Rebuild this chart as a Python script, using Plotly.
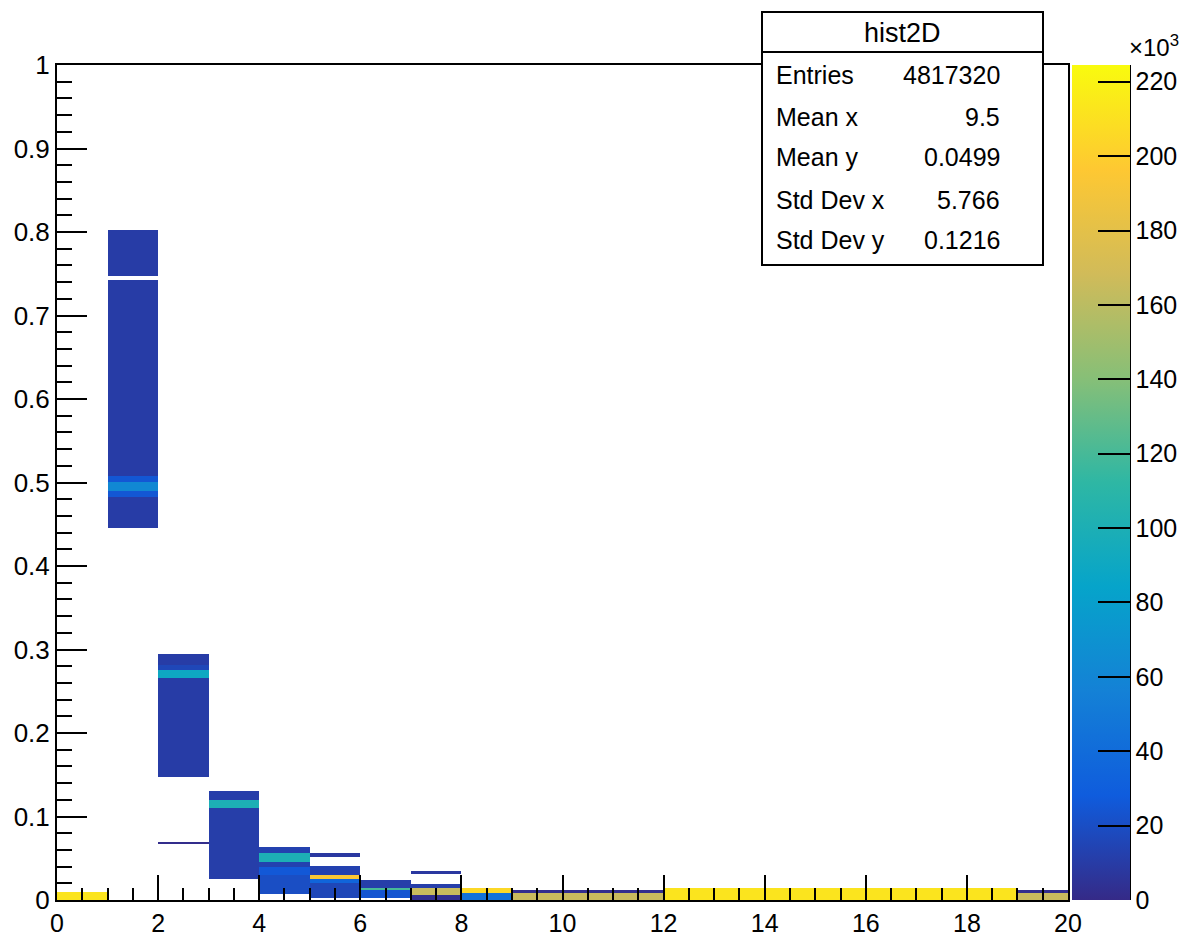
import numpy as np
import plotly.graph_objects as go

# ---------------- data ----------------
# x bins: 20 bins of width 1 from 0 to 20
x_edges = list(range(0, 21))

# Filled regions of the 2D histogram: column (x bin index), y range, content (x10^3 entries)
seg_col = [0,
           1, 1, 1, 1, 1, 1,
           2, 2, 2, 2, 2,
           3, 3, 3,
           4, 4, 4, 4, 4,
           5, 5, 5, 5, 5,
           6, 6, 6,
           7, 7, 7, 7,
           8, 8,
           9, 9, 10, 10, 11, 11,
           12, 13, 14, 15, 16, 17, 18,
           19, 19]
seg_ylo = [0.0,
           0.4455, 0.483, 0.490, 0.501, 0.508, 0.747,
           0.067, 0.147, 0.266, 0.275, 0.282,
           0.025, 0.110, 0.120,
           0.007, 0.030, 0.040, 0.046, 0.0567,
           0.003, 0.020, 0.0248, 0.0299, 0.0518,
           0.003, 0.012, 0.0144,
           0.0, 0.006, 0.0144, 0.031,
           0.0, 0.0084,
           0.0, 0.0088, 0.0, 0.0088, 0.0, 0.0088,
           0.0, 0.0, 0.0, 0.0, 0.0, 0.0, 0.0,
           0.0, 0.0088]
seg_yhi = [0.0096,
           0.483, 0.490, 0.501, 0.508, 0.7425, 0.803,
           0.0695, 0.266, 0.275, 0.282, 0.2946,
           0.110, 0.120, 0.1305,
           0.030, 0.040, 0.046, 0.0567, 0.0638,
           0.020, 0.0248, 0.0299, 0.0407, 0.0566,
           0.012, 0.0144, 0.024,
           0.006, 0.0144, 0.0192, 0.035,
           0.0084, 0.0144,
           0.0088, 0.012, 0.0088, 0.012, 0.0088, 0.012,
           0.0144, 0.0144, 0.0144, 0.0144, 0.0144, 0.0144, 0.0144,
           0.0088, 0.012]
seg_val = [212,
           10, 25, 62, 25, 10, 10,
           1.5, 10, 90, 16, 10,
           11, 100, 11,
           20, 26, 13, 100, 13,
           16, 35, 195, 13, 8,
           24, 120, 11,
           3, 165, 11, 8,
           45, 205,
           165, 2, 165, 2, 165, 2,
           212, 212, 212, 212, 212, 212, 212,
           165, 2]

x_ticks = [0, 2, 4, 6, 8, 10, 12, 14, 16, 18, 20]
z_ticks = [0, 20, 40, 60, 80, 100, 120, 140, 160, 180, 200, 220]
z_max = 224.5

stats_labels = ["Entries", "Mean x", "Mean y", "Std Dev x", "Std Dev y"]
stats_values = ["4817320", "9.5", "0.0499", "5.766", "0.1216"]
hist_name = "hist2D"

# ---------------- build the binned grid ----------------
y_edges = sorted(set(seg_ylo) | set(seg_yhi) | {0.0, 1.0})
ny, nx = len(y_edges) - 1, len(x_edges) - 1
z = np.full((ny, nx), np.nan)
for c, lo, hi, v in zip(seg_col, seg_ylo, seg_yhi, seg_val):
    for j in range(ny):
        if y_edges[j] >= lo - 1e-12 and y_edges[j + 1] <= hi + 1e-12:
            z[j, c] = v

bird = [[0.000, "rgb(53,42,135)"], [0.125, "rgb(15,92,221)"], [0.250, "rgb(20,129,214)"],
        [0.375, "rgb(6,164,202)"], [0.500, "rgb(46,183,164)"], [0.625, "rgb(135,191,119)"],
        [0.750, "rgb(209,187,89)"], [0.875, "rgb(254,200,50)"], [1.000, "rgb(249,251,14)"]]

FONT = "Liberation Sans, Arial, sans-serif"

fig = go.Figure()
fig.add_trace(go.Heatmap(
    x=x_edges, y=y_edges, z=z, zmin=0, zmax=z_max, colorscale=bird,
    hoverinfo="skip",
    colorbar=dict(
        thickness=58, thicknessmode="pixels", len=1, lenmode="fraction",
        x=1.004, xanchor="left", y=0, yanchor="bottom", xpad=0, ypad=0,
        outlinewidth=0, ticks="inside", ticklen=32, tickwidth=2, tickcolor="black",
        tickvals=z_ticks, ticktext=[str(t) for t in z_ticks],
        tickfont=dict(family=FONT, size=25, color="black"),
    ),
))

px2x = lambda p: (p - 57) / 1011.0
px2y = lambda p: (900 - p) / 835.0

shapes = [
    dict(type="line", xref="paper", yref="paper", x0=px2x(1130), x1=px2x(1130), y0=0, y1=1,
         line=dict(color="black", width=2), layer="above"),
    dict(type="rect", xref="paper", yref="paper", x0=px2x(762), x1=px2x(1043), y0=px2y(265), y1=px2y(12),
         fillcolor="white", line=dict(color="black", width=2), layer="above"),
    dict(type="line", xref="paper", yref="paper", x0=px2x(762), x1=px2x(1043), y0=px2y(52), y1=px2y(52),
         line=dict(color="black", width=2), layer="above"),
]

annotations = [dict(xref="paper", yref="paper", x=px2x(902), y=px2y(33), text=hist_name, showarrow=False,
                    xanchor="center", yanchor="middle", font=dict(family=FONT, size=27, color="black"))]
row_y = [75, 117, 157, 200, 240]
for lab, val, ry in zip(stats_labels, stats_values, row_y):
    annotations.append(dict(xref="paper", yref="paper", x=px2x(774), y=px2y(ry), text=lab, showarrow=False,
                            xanchor="left", yanchor="middle", font=dict(family=FONT, size=25, color="black")))
    annotations.append(dict(xref="paper", yref="paper", x=px2x(1002), y=px2y(ry), text=val, showarrow=False,
                            xanchor="right", yanchor="middle", font=dict(family=FONT, size=25, color="black")))
annotations.append(dict(xref="paper", yref="paper", x=px2x(1127), y=px2y(46), text="×10<sup>3</sup>",
                        showarrow=False, xanchor="left", yanchor="middle",
                        font=dict(family=FONT, size=24, color="black")))

fig.update_layout(
    width=1186, height=936, autosize=False,
    margin=dict(l=57, r=118, t=65, b=36, autoexpand=False),
    paper_bgcolor="white", plot_bgcolor="white",
    shapes=shapes, annotations=annotations, showlegend=False,
    xaxis=dict(range=[0, 20], tickvals=x_ticks, ticks="inside", ticklen=25, tickwidth=2, tickcolor="black",
               showline=True, linecolor="black", linewidth=2, mirror=True, showgrid=False, zeroline=False,
               minor=dict(dtick=0.5, ticks="inside", ticklen=12, tickwidth=2, tickcolor="black"),
               ticklabelstandoff=0,
               tickfont=dict(family=FONT, size=25, color="black")),
    yaxis=dict(range=[0, 1], dtick=0.1, tick0=0, ticks="inside", ticklen=30, tickwidth=2, tickcolor="black",
               showline=True, linecolor="black", linewidth=2, mirror=True, showgrid=False, zeroline=False,
               minor=dict(dtick=0.02, ticks="inside", ticklen=15, tickwidth=2, tickcolor="black"),
               tickfont=dict(family=FONT, size=26, color="black")),
)

fig.write_html("out.html")
